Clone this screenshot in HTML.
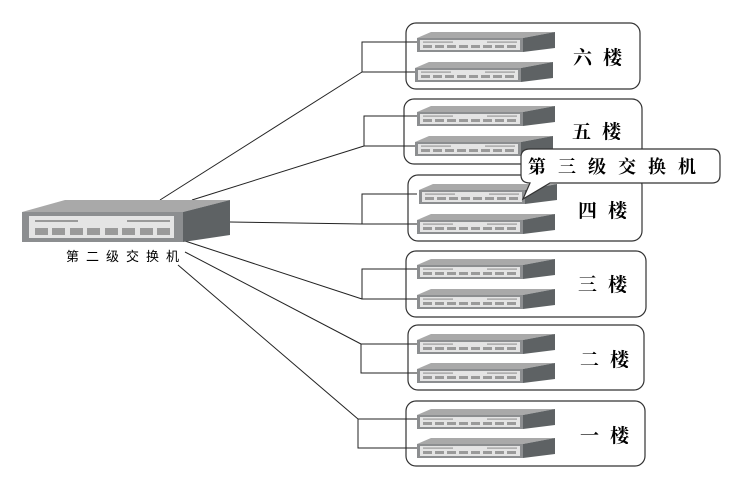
<!DOCTYPE html>
<html><head><meta charset="utf-8"><style>
html,body{margin:0;padding:0;background:#fff;}
svg{display:block;font-family:"Liberation Sans","Noto Sans CJK SC",sans-serif;}
.sf{font-family:"Liberation Serif","Noto Serif CJK SC",serif;}
</style></head><body>
<svg width="742" height="491" viewBox="0 0 742 491" xmlns="http://www.w3.org/2000/svg">
<defs>
<g id="sw">
  <polygon points="0,-4 14,-10 138,-10 106,-4" fill="#a9a9a9"/>
  <polygon points="106,-4 138,-10 138,6 106,10" fill="#5e6264"/>
  <rect x="0" y="-4" width="106" height="14" fill="#8c8e90"/>
  <rect x="3" y="-2" width="100" height="10" fill="#e4e4e4"/>
  <rect x="6" y="-0.5" width="30" height="1.2" fill="#999"/>
  <rect x="70" y="-0.5" width="30" height="1.2" fill="#999"/>
  <g fill="#9a9a9a">
    <rect x="6" y="3" width="9" height="3"/><rect x="18" y="3" width="9" height="3"/>
    <rect x="30" y="3" width="9" height="3"/><rect x="42" y="3" width="9" height="3"/>
    <rect x="54" y="3" width="9" height="3"/><rect x="66" y="3" width="9" height="3"/>
    <rect x="78" y="3" width="9" height="3"/><rect x="90" y="3" width="9" height="3"/>
  </g>
</g>
</defs>
<g fill="none" stroke="#333" stroke-width="1.2">
<rect x="406" y="23" width="234" height="66" rx="10"/>
<rect x="404" y="99" width="238" height="65" rx="10"/>
<rect x="408" y="175" width="234" height="66" rx="10"/>
<rect x="406" y="251" width="240" height="66" rx="10"/>
<rect x="408" y="325" width="236" height="65" rx="10"/>
<rect x="406" y="401" width="239" height="65" rx="10"/>
</g>
<g fill="none" stroke="#222" stroke-width="1">
<polyline points="417,42 362,42 362,72 417,72"/>
<polyline points="417,116 364,116 364,146 417,146"/>
<polyline points="417,194 362,194 362,224 417,224"/>
<polyline points="417,269 362,269 362,299 417,299"/>
<polyline points="417,344 361,344 361,373 417,373"/>
<polyline points="417,419 358,419 358,448 417,448"/>
<line x1="160" y1="200" x2="362" y2="72"/>
<line x1="192" y1="200" x2="364" y2="146"/>
<line x1="230" y1="222" x2="362" y2="224"/>
<line x1="185" y1="241" x2="362" y2="299"/>
<line x1="185" y1="252" x2="361" y2="344"/>
<line x1="178" y1="265" x2="358" y2="419"/>
</g>
<use href="#sw" x="417" y="42"/><use href="#sw" x="415" y="72"/>
<use href="#sw" x="417" y="116"/><use href="#sw" x="415" y="146"/>
<use href="#sw" x="419" y="194"/><use href="#sw" x="417" y="224"/>
<use href="#sw" x="417" y="269"/><use href="#sw" x="417" y="299"/>
<use href="#sw" x="417" y="344"/><use href="#sw" x="417" y="373"/>
<use href="#sw" x="417" y="419"/><use href="#sw" x="417" y="448"/>
<g class="sf" font-size="19" fill="#000" font-weight="bold" letter-spacing="11">
<text x="573" y="64">六楼</text>
<text x="572" y="138">五楼</text>
<text x="578" y="217">四楼</text>
<text x="578" y="291">三楼</text>
<text x="580" y="366">二楼</text>
<text x="580" y="442">一楼</text>
</g>
<!-- big switch -->
<polygon points="22,212 65,200 230,200 183,212" fill="#a9a9a9"/>
<polygon points="183,212 230,200 230,235 183,242" fill="#5e6264"/>
<rect x="22" y="212" width="161" height="30" fill="#8c8e90"/>
<rect x="29" y="216" width="145" height="22" fill="#e4e4e4"/>
<rect x="35" y="220" width="43" height="2" fill="#999"/>
<rect x="127" y="220" width="43" height="2" fill="#999"/>
<g fill="#9a9a9a">
<rect x="35" y="228" width="13" height="7"/><rect x="52" y="228" width="13" height="7"/>
<rect x="70" y="228" width="13" height="7"/><rect x="87" y="228" width="13" height="7"/>
<rect x="105" y="228" width="13" height="7"/><rect x="122" y="228" width="13" height="7"/>
<rect x="140" y="228" width="13" height="7"/><rect x="157" y="228" width="13" height="7"/>
</g>
<text x="66" y="261" font-size="13" letter-spacing="7" fill="#000">第二级交换机</text>
<!-- callout -->
<path d="M530,149 H712 Q720,149 720,157 V175 Q720,183 712,183 H550 L523,199 L530,183 Q521,183 521,175 V157 Q521,149 530,149 Z" fill="#fff" stroke="#333" stroke-width="1.2"/>
<text class="sf" x="528" y="173" font-size="18" letter-spacing="12" font-weight="bold" fill="#000">第三级交换机</text>
</svg>
</body></html>
